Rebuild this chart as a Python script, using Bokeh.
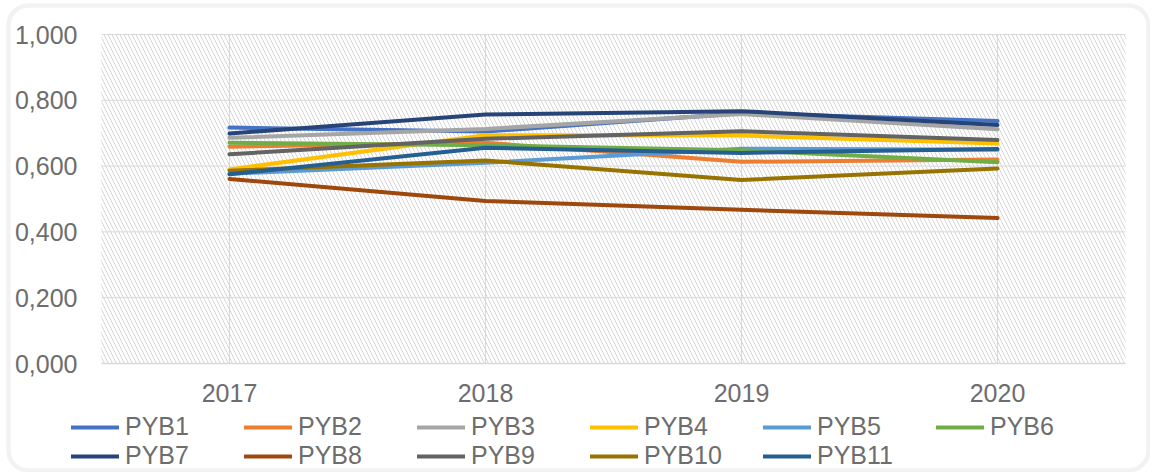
from bokeh.plotting import figure
from bokeh.models import (Range1d, FixedTicker, CustomJSTickFormatter,
                          BoxAnnotation, Legend, LegendItem, Node)
from bokeh.embed import file_html
from bokeh.resources import INLINE

years = ["2017", "2018", "2019", "2020"]
series_names = ["PYB1", "PYB2", "PYB3", "PYB4", "PYB5", "PYB6",
                "PYB7", "PYB8", "PYB9", "PYB10", "PYB11"]
PYB1 = [0.717, 0.705, 0.761, 0.737]
PYB2 = [0.659, 0.671, 0.613, 0.620]
PYB3 = [0.686, 0.713, 0.758, 0.712]
PYB4 = [0.590, 0.694, 0.693, 0.669]
PYB5 = [0.577, 0.610, 0.653, 0.650]
PYB6 = [0.671, 0.663, 0.648, 0.612]
PYB7 = [0.699, 0.757, 0.767, 0.725]
PYB8 = [0.561, 0.494, 0.467, 0.442]
PYB9 = [0.636, 0.683, 0.706, 0.679]
PYB10 = [0.586, 0.617, 0.558, 0.593]
PYB11 = [0.575, 0.656, 0.640, 0.652]
series_values = [PYB1, PYB2, PYB3, PYB4, PYB5, PYB6, PYB7, PYB8, PYB9, PYB10, PYB11]
colors = ["#4472C4", "#ED7D31", "#A5A5A5", "#FFC000", "#5B9BD5", "#70AD47",
          "#264478", "#9E480E", "#636363", "#997300", "#255E91"]
y_ticks = [0.0, 0.2, 0.4, 0.6, 0.8, 1.0]

FONT = "Liberation Sans"
TXT = "#6d6d6d"
GRID = "#d9d9d9"
FS = "25px"

# layout (pixels): canvas is the whole frame; plot area placed inside it
W, H = 1150, 472
OX, OY = 1, 1                     # canvas origin on page
PX0, PX_STEP = 230, 256           # first category centre, category spacing
PY0, PY_UNIT = 364, 329           # y=0 pixel, pixels per unit

xpos = list(range(len(years)))
x_lo, x_hi = -0.5, len(years) - 0.5
x_start = (OX - PX0) / PX_STEP
x_end = (OX + W - PX0) / PX_STEP
y_end = (PY0 - OY) / PY_UNIT
y_start = (PY0 - (OY + H)) / PY_UNIT

p = figure(width=W, height=H, x_range=Range1d(x_start, x_end),
           y_range=Range1d(y_start, y_end), output_backend="svg",
           toolbar_location=None, min_border=0)
p.outline_line_color = None
p.background_fill_color = "white"
p.border_fill_color = "white"
p.xgrid.visible = False
p.ygrid.visible = False

# hatched plot area
p.add_layout(BoxAnnotation(left=x_lo, right=x_hi, bottom=0, top=1,
                           fill_color=None, line_color=None,
                           hatch_pattern="left_diagonal_line", hatch_color="#d6d6d6",
                           hatch_scale=8, hatch_weight=1, level="underlay"))

# grid lines
p.segment(x0=[x_lo] * len(y_ticks), y0=y_ticks, x1=[x_hi] * len(y_ticks), y1=y_ticks,
          line_color=GRID, line_width=1, level="underlay")
p.segment(x0=xpos, y0=[0] * len(xpos), x1=xpos, y1=[1] * len(xpos),
          line_color=GRID, line_width=1, level="underlay")

# rounded chart border
p.add_layout(BoxAnnotation(left=Node(target="frame", symbol="left", offset=8),
                           right=Node(target="frame", symbol="right", offset=-2),
                           top=Node(target="frame", symbol="top", offset=5),
                           bottom=Node(target="frame", symbol="bottom", offset=-2),
                           fill_color=None, line_color="#d4d4d4", line_width=4.5,
                           border_radius=20, level="overlay"))

renderers = []
for name, vals, c in zip(series_names, series_values, colors):
    r = p.line(xpos, vals, line_color=c, line_width=4, line_cap="round", line_join="round")
    renderers.append((name, r))

p.xaxis.fixed_location = 0
p.xaxis.bounds = (x_lo, x_hi)
p.xaxis.ticker = FixedTicker(ticks=xpos)
p.xaxis.major_label_overrides = {i: y for i, y in zip(xpos, years)}
p.yaxis.fixed_location = x_lo
p.yaxis.bounds = (0, 1)
p.yaxis.ticker = FixedTicker(ticks=y_ticks)
p.yaxis.formatter = CustomJSTickFormatter(code="return tick.toFixed(3).replace('.', ',');")
for ax in (p.xaxis, p.yaxis):
    ax.major_label_text_font = FONT
    ax.major_label_text_font_size = FS
    ax.major_label_text_color = TXT
    ax.major_tick_line_color = None
    ax.minor_tick_line_color = None
    ax.major_tick_out = 0
    ax.major_tick_in = 0
p.yaxis.axis_line_color = None
p.yaxis.major_label_standoff = 24
p.xaxis.axis_line_color = GRID
p.xaxis.axis_line_width = 1.5
p.xaxis.major_label_standoff = 20

legend = Legend(items=[LegendItem(label=n, renderers=[r]) for n, r in renderers],
                orientation="horizontal", nrows=2, location=(71, 2),
                padding=0, margin=0, spacing=0, border_line_color=None,
                background_fill_alpha=0, glyph_width=48, glyph_height=28,
                label_height=28, label_width=119, label_standoff=6,
                label_text_font=FONT, label_text_font_size=FS,
                label_text_color=TXT)
p.add_layout(legend)

open("out.html", "w").write(file_html(p, INLINE))
